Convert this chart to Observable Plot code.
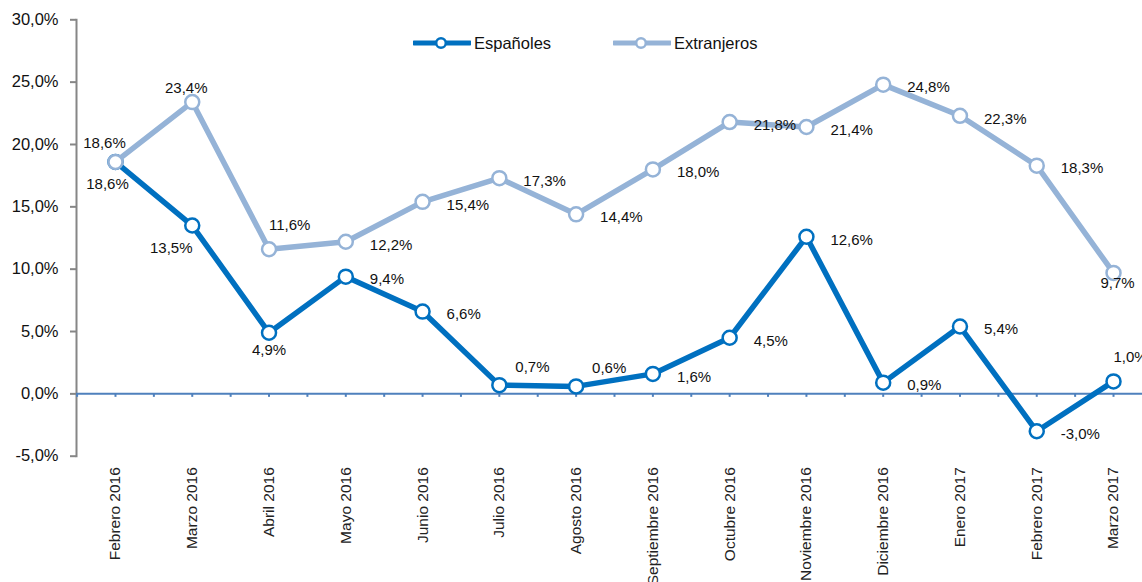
<!DOCTYPE html>
<html>
<head>
<meta charset="utf-8">
<script src="https://cdn.jsdelivr.net/npm/d3@7"></script>
<script src="https://cdn.jsdelivr.net/npm/@observablehq/plot@0.6"></script>
<style>
  html, body { margin: 0; padding: 0; background: #fff; }
  #wrap { position: relative; width: 1142px; height: 582px; overflow: hidden; font-family: "Liberation Sans", Arial, sans-serif; }
  #legend { position: absolute; top: 33px; left: 0; width: 1142px; height: 24px; }
  .item { position: absolute; top: 0; display: flex; align-items: center; font-size: 16.5px; color: #111; }
  .item svg { display: block; margin-right: 3px; }
</style>
</head>
<body>
<div id="wrap">
  <div id="chart"></div>
  <div id="legend"></div>
</div>
<script>
const categories = ["Febrero 2016","Marzo 2016","Abril 2016","Mayo 2016","Junio 2016","Julio 2016","Agosto 2016","Septiembre 2016","Octubre 2016","Noviembre 2016","Diciembre 2016","Enero 2017","Febrero 2017","Marzo 2017"];
const espanoles = [18.6, 13.5, 4.9, 9.4, 6.6, 0.7, 0.6, 1.6, 4.5, 12.6, 0.9, 5.4, -3.0, 1.0];
const extranjeros = [18.6, 23.4, 11.6, 12.2, 15.4, 17.3, 14.4, 18.0, 21.8, 21.4, 24.8, 22.3, 18.3, 9.7];
const seriesNames = ["Españoles", "Extranjeros"];
const yTicks = [-5, 0, 5, 10, 15, 20, 25, 30];
// label placement codes (relative to each point)
const espLabelPos = ["bl","bll","b","r","r","ur","ur","r","r","r","r","r","r","tr"];
const extLabelPos = ["tl","t","tr","r","r","r","r","r","r","r","r","r","r","bo"];

const colors = ["#0070C0", "#95B3D7"];
const placements = {
  r:   {textAnchor: "start",  dx: 24,  dy: 3},
  b:   {textAnchor: "middle", dx: 0,   dy: 17},
  bo:  {textAnchor: "middle", dx: 4,   dy: 10},
  bl:  {textAnchor: "middle", dx: -8,  dy: 22},
  bll: {textAnchor: "middle", dx: -21, dy: 23},
  tl:  {textAnchor: "middle", dx: -11, dy: -19},
  t:   {textAnchor: "middle", dx: -6,  dy: -14},
  tr:  {textAnchor: "start",  dx: 0,   dy: -24},
  ur:  {textAnchor: "start",  dx: 16,  dy: -18}
};

const fmt = v => v.toFixed(1).replace(".", ",") + "%";

const rows = [];
categories.forEach((c, i) => rows.push({i, cat: c, serie: seriesNames[0], v: espanoles[i], pos: espLabelPos[i]}));
categories.forEach((c, i) => rows.push({i, cat: c, serie: seriesNames[1], v: extranjeros[i], pos: extLabelPos[i]}));

const halfTicks = d3.range(-0.5, 13.51, 0.5);

const labelMarks = Object.entries(placements).map(([code, p]) =>
  Plot.text(rows.filter(d => d.pos === code), {
    x: "i", y: "v", text: d => fmt(d.v),
    textAnchor: p.textAnchor, dx: p.dx, dy: p.dy,
    lineAnchor: "middle", fill: "#111", fontSize: 15
  })
);

const seriesMarks = seriesNames.flatMap((s, k) => [
  Plot.line(rows.filter(d => d.serie === s), {x: "i", y: "v", stroke: colors[k], strokeWidth: 5.5, strokeLinejoin: "round"}),
  Plot.dot(rows.filter(d => d.serie === s), {x: "i", y: "v", r: 7, fill: "white", stroke: colors[k], strokeWidth: 2.5})
]);

const chart = Plot.plot({
  width: 1142,
  height: 582,
  marginLeft: 76,
  marginRight: 0,
  marginTop: 19.3,
  marginBottom: 126.3,
  style: {fontFamily: "'Liberation Sans', Arial, sans-serif", fontSize: "15px", background: "white", overflow: "hidden"},
  x: {type: "linear", domain: [-0.5, 13.5], range: [76.6, 1151.4]},
  y: {domain: [-5, 30]},
  marks: [
    Plot.axisY({ticks: yTicks, tickSize: 6, tickPadding: 12, tickFormat: fmt, fontSize: 16.5, stroke: "#868686", strokeWidth: 2, fill: "#111", label: null}),
    Plot.frame({anchor: "left", stroke: "#868686", strokeWidth: 2}),
    Plot.axisX({ticks: d3.range(categories.length), tickFormat: i => categories[i], tickRotate: -90, tickSize: 0, tickPadding: 11, fontSize: 15.5, fill: "#222", label: null}),
    Plot.ruleY([0], {stroke: "#4F81BD", strokeWidth: 2}),
    Plot.ruleX(halfTicks, {x: d => d, y1: 0, y2: -0.28, stroke: "#4F81BD", strokeWidth: 2}),
    ...seriesMarks,
    ...labelMarks
  ]
});
document.getElementById("chart").appendChild(chart);

// legend
const legend = document.getElementById("legend");
const legendX = [413, 613];
seriesNames.forEach((s, k) => {
  const item = document.createElement("div");
  item.className = "item";
  item.style.left = legendX[k] + "px";
  item.innerHTML = `<svg width="58" height="20"><line x1="1" y1="10" x2="57" y2="10" stroke="${colors[k]}" stroke-width="5" stroke-linecap="round"/><circle cx="28" cy="10" r="4.8" fill="white" stroke="${colors[k]}" stroke-width="2.5"/></svg><span>${s}</span>`;
  legend.appendChild(item);
});
</script>
</body>
</html>
